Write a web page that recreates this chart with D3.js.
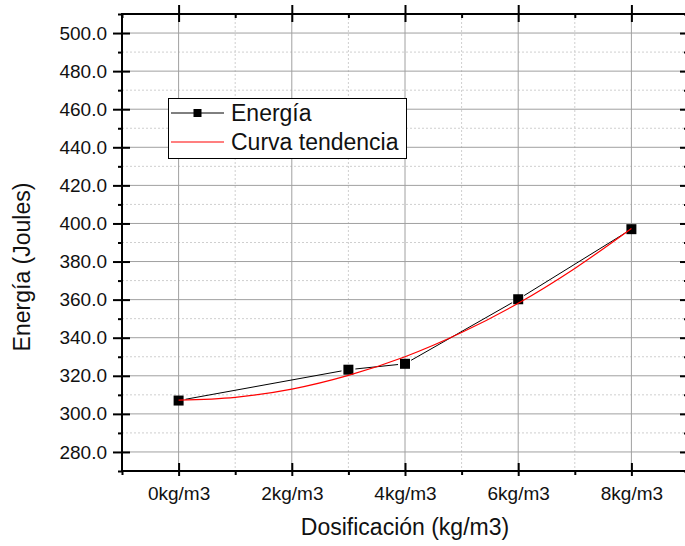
<!DOCTYPE html>
<html>
<head>
<meta charset="utf-8">
<script src="https://cdn.jsdelivr.net/npm/d3@7"></script>
<style>
  body { margin: 0; background: #fff; }
  svg { display: block; font-family: Arial, "Liberation Sans", sans-serif; }
</style>
</head>
<body>
<div id="chart"></div>
<script>
// measured points (kg/m3 -> Joules)
const doses = [0, 3, 4, 6, 8];
const energy = [307.0, 323.2, 326.3, 360.2, 397.0];

// trend curve
const trendDoses = [0, 1, 2, 3, 4, 5, 6, 7, 8];
const trendEnergy = [307.2, 308.7, 313.0, 320.2, 330.0, 342.7, 358.1, 376.4, 397.4];

const xTickValues = [0, 2, 4, 6, 8];
const xTickLabels = ["0kg/m3", "2kg/m3", "4kg/m3", "6kg/m3", "8kg/m3"];
const xMinorValues = [-1, 1, 3, 5, 7, 9];
const yTickValues = [280, 300, 320, 340, 360, 380, 400, 420, 440, 460, 480, 500];
const yMinorValues = [270, 290, 310, 330, 350, 370, 390, 410, 430, 450, 470, 490, 510];

const width = 685, height = 546;
const plotLeft = 122, plotRight = 688, plotTop = 14, plotBottom = 471;

const x = d3.scaleLinear().domain([-1, 9]).range([plotLeft, plotRight]);
const y = d3.scaleLinear().domain([270, 510]).range([plotBottom, plotTop]);

const svg = d3.select("#chart").append("svg")
    .attr("width", width)
    .attr("height", height);

// grid
const grid = svg.append("g");
grid.selectAll(".xminor").data(xMinorValues).enter().append("line")
    .attr("x1", d => x(d)).attr("x2", d => x(d))
    .attr("y1", plotTop).attr("y2", plotBottom)
    .style("stroke", "#cfcfcf").style("stroke-dasharray", "2,2");
grid.selectAll(".yminor").data(yMinorValues).enter().append("line")
    .attr("x1", plotLeft).attr("x2", plotRight)
    .attr("y1", d => y(d)).attr("y2", d => y(d))
    .style("stroke", "#cfcfcf").style("stroke-dasharray", "2,2");
grid.selectAll(".xmajor").data(xTickValues).enter().append("line")
    .attr("x1", d => x(d)).attr("x2", d => x(d))
    .attr("y1", plotTop).attr("y2", plotBottom)
    .style("stroke", "#a0a0a0");
grid.selectAll(".ymajor").data(yTickValues).enter().append("line")
    .attr("x1", plotLeft).attr("x2", plotRight)
    .attr("y1", d => y(d)).attr("y2", d => y(d))
    .style("stroke", "#a0a0a0");

// axes
function styleAxis(g) {
  g.select(".domain").remove();
  g.selectAll("line").style("stroke", "#000").style("stroke-width", 2);
  g.selectAll("text").style("font-size", "19px").style("fill", "#111");
}

const xBottom = svg.append("g")
    .attr("transform", "translate(0," + plotBottom + ")")
    .call(d3.axisBottom(x).tickValues(xTickValues)
      .tickFormat((d, i) => xTickLabels[i]).tickSize(5).tickPadding(16));
styleAxis(xBottom);
xBottom.selectAll(".tick line").attr("y1", -8);
xBottom.selectAll(".tick text").attr("y", 16).attr("dy", "0.71em");

const xBottomMinor = svg.append("g")
    .attr("transform", "translate(0," + plotBottom + ")")
    .call(d3.axisBottom(x).tickValues(xMinorValues).tickFormat("").tickSize(4));
styleAxis(xBottomMinor);

const xTop = svg.append("g")
    .attr("transform", "translate(0," + plotTop + ")")
    .call(d3.axisTop(x).tickValues(xTickValues).tickFormat("").tickSize(9));
styleAxis(xTop);
xTop.selectAll(".tick line").attr("y1", 8);

const xTopMinor = svg.append("g")
    .attr("transform", "translate(0," + plotTop + ")")
    .call(d3.axisTop(x).tickValues(xMinorValues).tickFormat("").tickSize(-4));
styleAxis(xTopMinor);

const yLeft = svg.append("g")
    .attr("transform", "translate(" + plotLeft + ",0)")
    .call(d3.axisLeft(y).tickValues(yTickValues)
      .tickFormat(d3.format(".1f")).tickSize(9).tickPadding(6));
styleAxis(yLeft);
yLeft.selectAll(".tick line").attr("x1", 8);
yLeft.selectAll(".tick text").attr("x", -15);

const yLeftMinor = svg.append("g")
    .attr("transform", "translate(" + plotLeft + ",0)")
    .call(d3.axisLeft(y).tickValues(yMinorValues).tickFormat("").tickSize(4));
styleAxis(yLeftMinor);

const yRight = svg.append("g")
    .attr("transform", "translate(" + plotRight + ",0)")
    .call(d3.axisRight(y).tickValues(yTickValues).tickFormat("").tickSize(-8));
styleAxis(yRight);

const yRightMinor = svg.append("g")
    .attr("transform", "translate(" + plotRight + ",0)")
    .call(d3.axisRight(y).tickValues(yMinorValues).tickFormat("").tickSize(-4));
styleAxis(yRightMinor);

// frame
svg.append("rect")
    .attr("x", plotLeft).attr("y", plotTop)
    .attr("width", plotRight - plotLeft).attr("height", plotBottom - plotTop)
    .style("fill", "none").style("stroke", "#000").style("stroke-width", 2);

// data line with gaps round the symbols
const pts = doses.map((d, i) => [x(d), y(energy[i])]);
const gap = 7;
for (let i = 0; i < pts.length - 1; i++) {
  const [x0, y0] = pts[i], [x1, y1] = pts[i + 1];
  const len = Math.hypot(x1 - x0, y1 - y0);
  const ux = (x1 - x0) / len, uy = (y1 - y0) / len;
  svg.append("line")
      .attr("x1", x0 + ux * gap).attr("y1", y0 + uy * gap)
      .attr("x2", x1 - ux * gap).attr("y2", y1 - uy * gap)
      .style("stroke", "#000").style("stroke-width", 1);
}

svg.selectAll(".pt").data(doses).enter().append("rect")
    .attr("x", (d, i) => x(d) - 5)
    .attr("y", (d, i) => y(energy[i]) - 5)
    .attr("width", 10).attr("height", 10)
    .style("fill", "#000");

// trend curve
const trendLine = d3.line()
    .x(d => x(d[0]))
    .y(d => y(d[1]))
    .curve(d3.curveCatmullRom);
svg.append("path")
    .datum(trendDoses.map((d, i) => [d, trendEnergy[i]]))
    .attr("d", trendLine)
    .style("fill", "none").style("stroke", "#ff0000").style("stroke-width", 1.2);

// legend
const legend = svg.append("g");
legend.append("rect")
    .attr("x", 168.5).attr("y", 98.5).attr("width", 238).attr("height", 60)
    .style("fill", "#fff").style("stroke", "#000").style("stroke-width", 1);
legend.append("line")
    .attr("x1", 171).attr("x2", 224).attr("y1", 113).attr("y2", 113)
    .style("stroke", "#000");
legend.append("rect")
    .attr("x", 193.5).attr("y", 109).attr("width", 8).attr("height", 8)
    .style("fill", "#000");
legend.append("line")
    .attr("x1", 171).attr("x2", 224).attr("y1", 142).attr("y2", 142)
    .style("stroke", "#ff0000").style("stroke-width", 1.2);
legend.append("text")
    .attr("x", 231).attr("y", 121)
    .style("font-size", "23px").style("fill", "#111")
    .text("Energía");
legend.append("text")
    .attr("x", 231).attr("y", 150)
    .style("font-size", "23px").style("fill", "#111")
    .text("Curva tendencia");

// axis titles
svg.append("text")
    .attr("x", 405).attr("y", 535)
    .attr("text-anchor", "middle")
    .style("font-size", "23px").style("fill", "#111")
    .text("Dosificación (kg/m3)");
svg.append("text")
    .attr("transform", "translate(30,267) rotate(-90)")
    .attr("text-anchor", "middle")
    .style("font-size", "23px").style("fill", "#111")
    .text("Energía (Joules)");
</script>
</body>
</html>
